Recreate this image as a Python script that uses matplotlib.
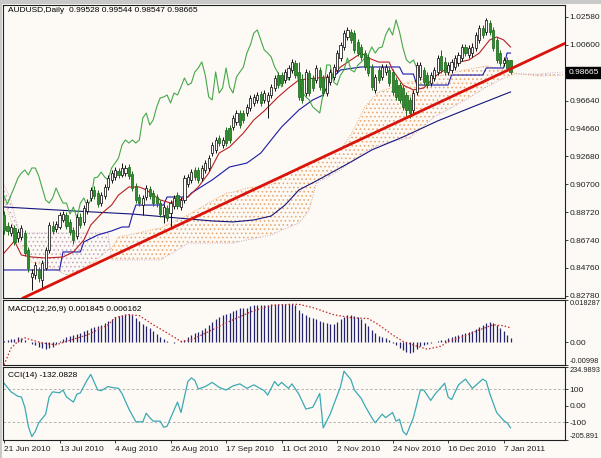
import matplotlib
matplotlib.use('Agg')
import matplotlib.pyplot as plt
import matplotlib.transforms as mtransforms
from matplotlib import font_manager as fm
from matplotlib.patches import Rectangle
import numpy as np

_names = {f.name for f in fm.fontManager.ttflist}
if 'Liberation Sans Narrow' in _names:
    plt.rcParams['font.family'] = ['Liberation Sans Narrow', 'DejaVu Sans']
    FS = 6.8
else:
    plt.rcParams['font.family'] = ['Liberation Sans', 'DejaVu Sans']
    FS = 6.0
FS_SMALL = FS * 0.88
plt.rcParams['hatch.linewidth'] = 0.7

# ---------------- data ----------------
title_text = "AUDUSD,Daily  0.99528 0.99544 0.98547 0.98665"
macd_text = "MACD(12,26,9) 0.001845 0.006162"
cci_text = "CCI(14) -132.0828"
last_price = 0.98665

date_labels = ["21 Jun 2010", "13 Jul 2010", "4 Aug 2010", "26 Aug 2010", "17 Sep 2010",
               "11 Oct 2010", "2 Nov 2010", "24 Nov 2010", "16 Dec 2010", "7 Jan 2011"]
date_label_bars = [0, 16, 32, 48, 64, 80, 96, 112, 128, 144]

price_ticks = [1.02580, 1.00600, 0.96640, 0.94660, 0.92680, 0.90700, 0.88720, 0.86740, 0.84760, 0.82780]
macd_ticks = [0.018287, 0.0, -0.00998]
macd_tick_labels = ["0.018287", "0.00", "-0.00998"]
cci_ticks = [234.9893, 100, 0, -100, -205.891]
cci_tick_labels = ["234.9893", "100", "0.00", "-100", "-205.891"]

opens = [
    0.8852, 0.8774, 0.8724, 0.8760, 0.8689, 0.8696, 0.8724, 0.8604, 0.8412, 0.8426,
    0.8462, 0.8391, 0.8476, 0.8604, 0.8774, 0.8753, 0.8767, 0.8817, 0.8852, 0.8803,
    0.8746, 0.8703, 0.8838, 0.8803, 0.8881, 0.8973, 0.9030, 0.9008, 0.8937, 0.8987,
    0.9051, 0.9101, 0.9122, 0.9165, 0.9136, 0.9150, 0.9193, 0.9143, 0.9058, 0.8980,
    0.8923, 0.8980, 0.9037, 0.9008, 0.8980, 0.8937, 0.8852, 0.8902, 0.8866, 0.8916,
    0.8994, 0.8909, 0.8959, 0.9072, 0.9101, 0.9172, 0.9172, 0.9115, 0.9172, 0.9186,
    0.9292, 0.9314, 0.9399, 0.9349, 0.9456, 0.9470, 0.9477, 0.9513, 0.9576, 0.9576,
    0.9576, 0.9612, 0.9647, 0.9669, 0.9711, 0.9669, 0.9662, 0.9704, 0.9754, 0.9846,
    0.9846, 0.9811, 0.9832, 0.9882, 0.9931, 0.9868, 0.9811, 0.9718, 0.9860, 0.9825,
    0.9811, 0.9882, 0.9825, 0.9718, 0.9796, 0.9832, 0.9882, 0.9967, 1.0045, 1.0116,
    1.0152, 1.0144, 1.0081, 1.0045, 1.0002, 0.9974, 0.9903, 0.9740, 0.9882, 0.9832,
    0.9868, 0.9882, 0.9868, 0.9811, 0.9775, 0.9754, 0.9704, 0.9669, 0.9598, 0.9725,
    0.9832, 0.9882, 0.9846, 0.9789, 0.9825, 0.9868, 0.9981, 0.9939, 0.9868, 0.9882,
    0.9903, 0.9931, 0.9967, 1.0045, 0.9988, 1.0002, 1.0038, 1.0095, 1.0180, 1.0152,
    1.0215, 1.0166, 1.0095, 1.0002, 0.9931, 0.9953, 0.99528]

closes = [
    0.8746, 0.8739, 0.8767, 0.8661, 0.8731, 0.8760, 0.8582, 0.8476, 0.8440, 0.8497,
    0.8405, 0.8511, 0.8604, 0.8781, 0.8739, 0.8788, 0.8852, 0.8859, 0.8774, 0.8731,
    0.8675, 0.8838, 0.8781, 0.8902, 0.8944, 0.9030, 0.8987, 0.8930, 0.8994, 0.9051,
    0.9115, 0.9150, 0.9172, 0.9136, 0.9186, 0.9186, 0.9129, 0.9044, 0.8959, 0.8937,
    0.8973, 0.9044, 0.8987, 0.8937, 0.8937, 0.8859, 0.8909, 0.8831, 0.8937, 0.8973,
    0.8916, 0.8959, 0.9115, 0.9122, 0.9157, 0.9122, 0.9101, 0.9186, 0.9221, 0.9257,
    0.9349, 0.9385, 0.9363, 0.9385, 0.9363, 0.9385, 0.9541, 0.9576, 0.9491, 0.9527,
    0.9619, 0.9683, 0.9690, 0.9704, 0.9647, 0.9718, 0.9704, 0.9761, 0.9825, 0.9775,
    0.9789, 0.9868, 0.9896, 0.9939, 0.9846, 0.9690, 0.9669, 0.9868, 0.9718, 0.9754,
    0.9896, 0.9761, 0.9718, 0.9832, 0.9868, 0.9903, 1.0002, 1.0059, 1.0144, 1.0166,
    1.0095, 1.0024, 1.0002, 0.9974, 0.9903, 0.9860, 0.9761, 0.9832, 0.9811, 0.9903,
    0.9903, 0.9789, 0.9725, 0.9690, 0.9669, 0.9619, 0.9598, 0.9576, 0.9718, 0.9917,
    0.9917, 0.9796, 0.9775, 0.9846, 0.9882, 0.9967, 0.9882, 0.9868, 0.9917, 0.9939,
    0.9967, 0.9988, 1.0045, 1.0002, 1.0038, 1.0045, 1.0130, 1.0180, 1.0130, 1.0237,
    1.0152, 1.0038, 0.9953, 0.9931, 0.9953, 0.9896, 0.98665]

highs = [
    0.8881, 0.8803, 0.8788, 0.8781, 0.8753, 0.8781, 0.8746, 0.8625, 0.8469, 0.8518,
    0.8483, 0.8533, 0.8625, 0.8803, 0.8810, 0.8810, 0.8873, 0.8881, 0.8873, 0.8824,
    0.8767, 0.8859, 0.8866, 0.8923, 0.8966, 0.9051, 0.9058, 0.9030, 0.9016, 0.9072,
    0.9136, 0.9172, 0.9193, 0.9186, 0.9221, 0.9207, 0.9214, 0.9165, 0.9079, 0.9001,
    0.8994, 0.9065, 0.9058, 0.9030, 0.9001, 0.8959, 0.8930, 0.8923, 0.8959, 0.8994,
    0.9016, 0.8980, 0.9136, 0.9143, 0.9179, 0.9193, 0.9193, 0.9207, 0.9243, 0.9278,
    0.9370, 0.9406, 0.9420, 0.9406, 0.9477, 0.9491, 0.9562, 0.9598, 0.9598, 0.9598,
    0.9640, 0.9704, 0.9711, 0.9725, 0.9733, 0.9740, 0.9725, 0.9782, 0.9846, 0.9868,
    0.9868, 0.9889, 0.9917, 0.9960, 0.9953, 0.9939, 0.9853, 0.9889, 0.9882, 0.9846,
    0.9917, 0.9903, 0.9846, 0.9853, 0.9889, 0.9924, 1.0024, 1.0081, 1.0166, 1.0187,
    1.0173, 1.0166, 1.0102, 1.0066, 1.0024, 0.9995, 0.9924, 0.9853, 0.9903, 0.9924,
    0.9924, 0.9903, 0.9889, 0.9832, 0.9796, 0.9775, 0.9725, 0.9690, 0.9740, 0.9939,
    0.9939, 0.9903, 0.9868, 0.9868, 0.9903, 0.9988, 1.0024, 0.9974, 0.9939, 0.9960,
    0.9988, 1.0009, 1.0066, 1.0066, 1.0059, 1.0073, 1.0152, 1.0201, 1.0201, 1.0251,
    1.0237, 1.0187, 1.0116, 1.0024, 0.9974, 0.9974, 0.99544]

lows = [
    0.8717, 0.8710, 0.8703, 0.8639, 0.8661, 0.8675, 0.8561, 0.8447, 0.8320, 0.8398,
    0.8376, 0.8334, 0.8462, 0.8582, 0.8717, 0.8731, 0.8753, 0.8803, 0.8753, 0.8710,
    0.8646, 0.8682, 0.8760, 0.8781, 0.8859, 0.8952, 0.8966, 0.8909, 0.8916, 0.8966,
    0.9030, 0.9079, 0.9101, 0.9115, 0.9122, 0.9129, 0.9108, 0.9023, 0.8937, 0.8916,
    0.8852, 0.8959, 0.8966, 0.8916, 0.8909, 0.8838, 0.8795, 0.8810, 0.8767, 0.8895,
    0.8895, 0.8888, 0.8937, 0.9051, 0.9079, 0.9101, 0.9079, 0.9094, 0.9150, 0.9165,
    0.9271, 0.9292, 0.9342, 0.9328, 0.9342, 0.9363, 0.9456, 0.9491, 0.9470, 0.9505,
    0.9555, 0.9591, 0.9626, 0.9647, 0.9626, 0.9647, 0.9541, 0.9683, 0.9733, 0.9754,
    0.9768, 0.9789, 0.9811, 0.9860, 0.9825, 0.9669, 0.9647, 0.9697, 0.9697, 0.9733,
    0.9789, 0.9740, 0.9697, 0.9697, 0.9775, 0.9811, 0.9860, 0.9946, 1.0024, 1.0095,
    1.0073, 1.0002, 0.9981, 0.9953, 0.9882, 0.9839, 0.9740, 0.9718, 0.9789, 0.9811,
    0.9846, 0.9768, 0.9704, 0.9669, 0.9647, 0.9598, 0.9555, 0.9541, 0.9576, 0.9704,
    0.9811, 0.9775, 0.9754, 0.9768, 0.9804, 0.9846, 0.9860, 0.9846, 0.9846, 0.9860,
    0.9882, 0.9910, 0.9946, 0.9981, 0.9967, 0.9974, 1.0017, 1.0073, 1.0109, 1.0130,
    1.0130, 1.0017, 0.9931, 0.9910, 0.9910, 0.9875, 0.98547]

# Ichimoku Tenkan-sen (red)
tenkan_idx = [0, 3, 5, 8, 12, 17, 20, 23, 25, 28, 31, 33, 36, 39, 41, 45, 48, 53, 56, 59,
              62, 65, 69, 72, 75, 79, 82, 85, 90, 94, 97, 100, 103, 105, 108, 111, 112, 115, 118, 121,
              124, 127, 130, 134, 137, 140, 142, 144, 146]
tenkan = [0.8582, 0.8668, 0.8568, 0.8554, 0.8547, 0.8554, 0.8590, 0.8675, 0.8781, 0.8860,
          0.8923, 0.8994, 0.9051, 0.9051, 0.9030, 0.8959, 0.8938, 0.8980, 0.9051, 0.9150,
          0.9292, 0.9335, 0.9434, 0.9527, 0.9591, 0.9690, 0.9754, 0.9811, 0.9825, 0.9832,
          0.9903, 0.9953, 1.0002, 0.9967, 0.9938, 0.9938, 0.9882, 0.9775, 0.9740, 0.9754,
          0.9832, 0.9882, 0.9931, 0.9953, 1.0002, 1.0095, 1.0116, 1.0095, 1.0045]

# Ichimoku Kijun-sen (blue)
kijun_idx = [0, 16, 17, 22, 23, 27, 31, 34, 36, 37, 38, 46, 47, 53, 54, 60, 65, 70, 74, 77,
             80, 85, 89, 92, 94, 97, 103, 114, 115, 118, 119, 128, 129, 138, 139, 144, 145, 146]
kijun = [0.8462, 0.8462, 0.8590, 0.8590, 0.8661, 0.8710, 0.8739, 0.8767, 0.8767, 0.8852,
         0.8923, 0.8923, 0.8980, 0.8980, 0.9008, 0.9101, 0.9193, 0.9221, 0.9292, 0.9385,
         0.9477, 0.9598, 0.9669, 0.9704, 0.9811, 0.9882, 0.9903, 0.9903, 0.9853, 0.9853,
         0.9775, 0.9775, 0.9846, 0.9846, 0.9896, 0.9896, 1.0002, 1.0002]

# Ichimoku cloud (Senkou span A / B, already shifted forward)
span_idx = [0, 2, 4, 6, 8, 14, 18, 22, 26, 30, 31, 33, 40, 45, 50, 53, 58, 64, 66, 70,
            77, 80, 85, 88, 90, 97, 100, 104, 108, 114, 117, 124, 133, 139, 143, 147, 154, 161]
span_a = [0.8959, 0.8817, 0.8661, 0.8590, 0.8519, 0.8476, 0.8426, 0.8462, 0.8519, 0.8604,
          0.8618, 0.8696, 0.8732, 0.8760, 0.8817, 0.8852, 0.8923, 0.9008, 0.9015, 0.9044,
          0.9065, 0.9115, 0.9193, 0.9229, 0.9243, 0.9314, 0.9420, 0.9619, 0.9726, 0.9775,
          0.9797, 0.9832, 0.9882, 0.9910, 0.9889, 0.9860, 0.9839, 0.9846]
span_b = [0.9065, 0.8959, 0.8760, 0.8725, 0.8725, 0.8725, 0.8725, 0.8725, 0.8725, 0.8725,
          0.8533, 0.8533, 0.8533, 0.8533, 0.8604, 0.8653, 0.8653, 0.8653, 0.8653, 0.8675,
          0.8710, 0.8746, 0.8795, 0.8888, 0.9079, 0.9172, 0.9229, 0.9300, 0.9349, 0.9385,
          0.9399, 0.9548, 0.9669, 0.9761, 0.9811, 0.9853, 0.9853, 0.9867]

# long moving average (navy)
ma_idx = [0, 20, 37, 50, 60, 66, 72, 77, 81, 85, 90, 100, 106, 115, 125, 135, 146]
ma_vals = [0.8909, 0.8881, 0.8859, 0.8831, 0.8810, 0.8803, 0.8817, 0.8845, 0.8923, 0.9030,
           0.9094, 0.9229, 0.9314, 0.9406, 0.9520, 0.9619, 0.9726]

# trend line anchor points (bar, price)
trend_bars = [8, 116]
trend_prices = [0.8292, 0.9542]

chikou_shift = 26

macd_hist = [
    0.0004, 0.0009, 0.0013, 0.0015, 0.0020, 0.0018, 0.0011, 0.0002, -0.0007, -0.0013,
    -0.0020, -0.0027, -0.0031, -0.0027, -0.0022, -0.0009, 0.0004, 0.0013, 0.0022, 0.0027,
    0.0031, 0.0035, 0.0040, 0.0049, 0.0053, 0.0062, 0.0066, 0.0071, 0.0075, 0.0084,
    0.0093, 0.0102, 0.0111, 0.0115, 0.0119, 0.0124, 0.0124, 0.0119, 0.0106, 0.0093,
    0.0080, 0.0071, 0.0062, 0.0049, 0.0035, 0.0022, 0.0013, 0.0004, 0.0000, -0.0002,
    0.0000, 0.0004, 0.0011, 0.0022, 0.0031, 0.0040, 0.0044, 0.0053, 0.0062, 0.0075,
    0.0088, 0.0102, 0.0111, 0.0119, 0.0124, 0.0128, 0.0137, 0.0141, 0.0146, 0.0148,
    0.0150, 0.0155, 0.0159, 0.0161, 0.0161, 0.0161, 0.0161, 0.0164, 0.0164, 0.0166,
    0.0166, 0.0166, 0.0166, 0.0166, 0.0159, 0.0141, 0.0128, 0.0119, 0.0111, 0.0106,
    0.0102, 0.0093, 0.0088, 0.0084, 0.0080, 0.0080, 0.0088, 0.0102, 0.0111, 0.0119,
    0.0119, 0.0115, 0.0111, 0.0102, 0.0084, 0.0071, 0.0053, 0.0040, 0.0027, 0.0022,
    0.0018, 0.0009, -0.0004, -0.0013, -0.0027, -0.0035, -0.0044, -0.0049, -0.0044, -0.0031,
    -0.0018, -0.0011, -0.0007, -0.0002, 0.0002, 0.0004, 0.0007, 0.0011, 0.0018, 0.0022,
    0.0027, 0.0031, 0.0035, 0.0040, 0.0044, 0.0049, 0.0057, 0.0066, 0.0075, 0.0084,
    0.0088, 0.0084, 0.0075, 0.0062, 0.0049, 0.0031, 0.001845]

signal_idx = [0, 2, 4, 6, 8, 11, 15, 18, 24, 30, 32, 36, 39, 43, 47, 51, 54, 60, 66, 72,
              77, 82, 85, 89, 95, 100, 105, 108, 112, 115, 119, 122, 126, 128, 133, 137, 141, 144, 146]
signal = [-0.0099, -0.0027, 0.0003, 0.0018, 0.0009, -0.0004, -0.0012, 0.0003, 0.0031, 0.0075,
          0.0106, 0.0119, 0.0115, 0.0075, 0.0040, 0.0003, 0.0009, 0.0053, 0.0097, 0.0137,
          0.0159, 0.0164, 0.0164, 0.0150, 0.0119, 0.0106, 0.0102, 0.0075, 0.0031, 0.0003,
          -0.0018, -0.0031, -0.0018, 0.0003, 0.0027, 0.0053, 0.0075, 0.0071, 0.006162]

cci_idx = [0, 2, 4, 5, 6, 7, 8, 9, 10, 12, 13, 14, 16, 17, 18, 20, 21, 22, 24, 25,
           27, 28, 30, 31, 33, 34, 36, 38, 40, 41, 42, 43, 45, 46, 47, 49, 50, 51, 53, 54,
           55, 56, 58, 60, 62, 64, 66, 68, 70, 72, 75, 76, 78, 79, 80, 82, 83, 85, 87, 89,
           91, 92, 94, 97, 98, 100, 101, 103, 104, 106, 107, 109, 110, 112, 113, 114, 115, 116, 118, 120,
           121, 123, 124, 127, 128, 129, 131, 133, 135, 138, 139, 140, 142, 144, 145, 146]
cci = [137, 85, 58, 54, -8, -123, -185, -154, -102, -50, 54, 85, 79, 96, 54, 23, 71, 79, 158, 190,
       96, 92, 117, 112, 106, 75, -19, -96, -96, -44, -71, -92, -92, -129, -123, -25, 23, -40, 148, 169,
       154, 102, 117, 142, 112, 96, 121, 133, 106, 127, 92, 65, 148, 121, 142, 106, 133, 70, -19, -8,
       75, -133, -50, 117, 210, 158, 96, 44, 2, -71, -102, -50, -71, -40, -92, -81, -154, -175, -71, 96,
       96, 33, 65, 137, 54, 38, 127, 162, 106, 162, 148, 75, -40, -88, -102, -132.0828]
cci_levels = [100, -100]

# ---------------- style ----------------
BG = '#FDFAF6'
XMIN, XMAX = -0.3, 161.7

fig = plt.figure(figsize=(6.01, 4.58), dpi=100)
fig.patch.set_facecolor(BG)
W, H = 601.0, 458.0

ax1 = fig.add_axes([3 / W, 1 - 298 / H, 562 / W, 293 / H])
ax2 = fig.add_axes([3 / W, 1 - 365 / H, 562 / W, 65 / H])
ax3 = fig.add_axes([3 / W, 1 - 440 / H, 562 / W, 73 / H])

# window frame
fig.patches.append(Rectangle((0, 1 - 4 / H), 1, 4 / H, transform=fig.transFigure,
                             facecolor='#C9C9C9', edgecolor='none', zorder=-5))
fig.patches.append(Rectangle((0, 0), 2 / W, 1, transform=fig.transFigure,
                             facecolor='#C9C9C9', edgecolor='none', zorder=-5))

for ax in (ax1, ax2, ax3):
    ax.set_facecolor(BG)
    ax.set_xlim(XMIN, XMAX)
    for s in ax.spines.values():
        s.set_linewidth(0.8)
        s.set_color('#202020')
    ax.yaxis.tick_right()
    ax.tick_params(axis='y', which='both', direction='out', length=2.2, width=0.6,
                   labelsize=FS, pad=1.0, left=False, labelleft=False, right=True, labelright=True,
                   colors='#202020')
    ax.tick_params(axis='x', bottom=False, labelbottom=False)

# ---------------- main price panel ----------------
ax1.set_ylim(0.8263, 1.0343)
sx = np.array(span_idx, dtype=float)
sa = np.array(span_a)
sb = np.array(span_b)
ax1.fill_between(sx, sa, sb, where=sa >= sb, interpolate=True, facecolor='none',
                 edgecolor='#E9AA74', hatch='....', linewidth=0, zorder=1)
ax1.fill_between(sx, sa, sb, where=sa < sb, interpolate=True, facecolor='none',
                 edgecolor='#C6ABC0', hatch='....', linewidth=0, zorder=1)
ax1.plot(sx, sa, color='#E9AA74', ls=(0, (1, 1.5)), lw=0.7, zorder=1.5)
ax1.plot(sx, sb, color='#C6ABC0', ls=(0, (1, 1.5)), lw=0.7, zorder=1.5)

ax1.plot(ma_idx, ma_vals, color='#14147A', lw=0.8, zorder=2)
ax1.plot(kijun_idx, kijun, color='#1A1AA8', lw=0.8, zorder=2.2)
ax1.plot(tenkan_idx, tenkan, color='#B82020', lw=0.8, zorder=2.3)
n = len(closes)
chikou_x = np.arange(0, n - chikou_shift)
ax1.plot(chikou_x, closes[chikou_shift:], color='#45A848', lw=0.8, zorder=2.4)

# candles
xs = np.arange(n)
o = np.array(opens); c = np.array(closes); h = np.array(highs); l = np.array(lows)
up = c >= o
ax1.vlines(xs[up], l[up], h[up], color='#101010', lw=0.7, zorder=3)
ax1.vlines(xs[~up], l[~up], h[~up], color='#1E6A1E', lw=0.7, zorder=3)
ax1.bar(xs[up], (c - o)[up], bottom=o[up], width=0.62, color='white',
        edgecolor='#101010', linewidth=0.55, zorder=4)
ax1.bar(xs[~up], (c - o)[~up], bottom=o[~up], width=0.62, color='#2E8F2E',
        edgecolor='#1E6A1E', linewidth=0.55, zorder=4)

# trend line
ax1.axline((trend_bars[0], trend_prices[0]), (trend_bars[1], trend_prices[1]),
           color='#D8140C', lw=2.0, zorder=5)

ax1.set_yticks(price_ticks)
ax1.set_yticklabels(['%.5f' % v for v in price_ticks])
trans1 = mtransforms.blended_transform_factory(ax1.transAxes, ax1.transData)
ax1.text(1.0 + 3.5 / 562, last_price, '%.5f' % last_price, transform=trans1, ha='left', va='center',
         fontsize=FS, color='white', zorder=10, clip_on=False,
         bbox=dict(boxstyle='square,pad=0.25', facecolor='black', edgecolor='black'))

fig.text(8 / W, 1 - 11 / H, title_text, fontsize=FS, color='black', ha='left', va='center')

# ---------------- MACD panel ----------------
ax2.set_ylim(macd_ticks[-1], macd_ticks[0])
ax2.vlines(xs, 0, macd_hist, color='#23236E', lw=0.9, zorder=2)
ax2.plot(signal_idx, signal, color='#C02828', ls=(0, (1.2, 1.6)), lw=0.9, zorder=3)
ax2.set_yticks(macd_ticks)
ax2.set_yticklabels(macd_tick_labels)
fig.text(8 / W, 1 - 309.5 / H, macd_text, fontsize=FS, color='black', ha='left', va='center')

# ---------------- CCI panel ----------------
ax3.set_ylim(cci_ticks[-1], cci_ticks[0])
for lev in cci_levels:
    ax3.axhline(lev, color='#A8A8A8', lw=0.6, ls=(0, (3, 2.5)), zorder=1)
ax3.plot(cci_idx, cci, color='#3BA9B3', lw=0.9, zorder=2)
ax3.set_yticks(cci_ticks)
ax3.set_yticklabels(cci_tick_labels)
fig.text(8 / W, 1 - 375.5 / H, cci_text, fontsize=FS, color='black', ha='left', va='center')

# extreme labels sit inside the panel and are set a little smaller so they fit
for ax in (ax2, ax3):
    ticks = ax.yaxis.get_major_ticks()
    ticks[0].label2.set_va('top')
    ticks[-1].label2.set_va('bottom')
    ticks[0].label2.set_fontsize(FS_SMALL)
    ticks[-1].label2.set_fontsize(FS_SMALL)

# x axis (dates)
ax3.set_xticks(date_label_bars)
ax3.set_xticklabels(date_labels, ha='left')
ax3.tick_params(axis='x', bottom=True, labelbottom=True, direction='out', length=2.5,
                width=0.6, labelsize=FS, pad=1.5, colors='#202020')

fig.savefig('out.png', dpi=100, facecolor=BG)
